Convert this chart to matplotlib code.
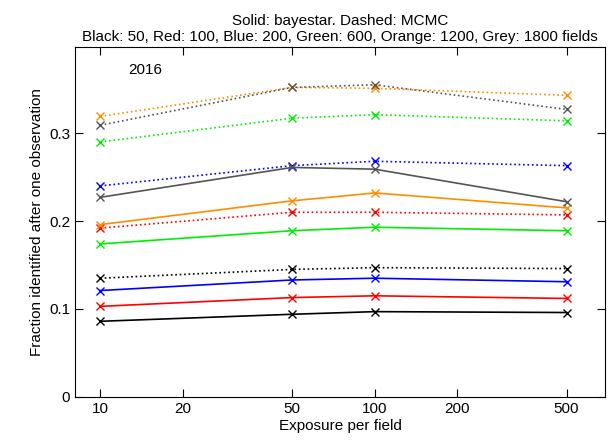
import matplotlib
matplotlib.use("Agg")
import matplotlib.pyplot as plt
from matplotlib.ticker import FixedLocator, NullLocator

plt.rcParams['font.family'] = ['Liberation Sans', 'DejaVu Sans']

exposure = [10, 50, 100, 500]
colors = ['black', 'red', 'blue', '#00ee00', '#ff8c00', '#555555']

# bayestar (solid), per field count 50,100,200,600,1200,1800
solid = [
    [0.086, 0.094, 0.097, 0.096],
    [0.103, 0.113, 0.115, 0.112],
    [0.121, 0.133, 0.135, 0.131],
    [0.174, 0.189, 0.193, 0.189],
    [0.196, 0.223, 0.232, 0.215],
    [0.227, 0.261, 0.259, 0.222],
]
# MCMC (dashed)
dashed = [
    [0.135, 0.145, 0.147, 0.146],
    [0.192, 0.210, 0.210, 0.207],
    [0.240, 0.263, 0.268, 0.263],
    [0.290, 0.317, 0.321, 0.314],
    [0.319, 0.352, 0.351, 0.343],
    [0.309, 0.352, 0.355, 0.327],
]

fig, ax = plt.subplots(figsize=(6.16, 4.43), dpi=100)
fig.subplots_adjust(left=0.122, right=0.982, top=0.894, bottom=0.104)

for c, s, d in zip(colors, solid, dashed):
    ax.plot(exposure, s, color=c, marker='x', lw=1.2, ms=6, mew=1)
    ax.plot(exposure, d, color=c, marker='x', lw=1.2, ms=6, mew=1, ls=':')

ax.set_xscale('log')
ax.set_xlim(8.1, 690)
ax.set_ylim(0, 0.398)
ax.xaxis.set_major_locator(FixedLocator([10, 20, 50, 100, 200, 500]))
ax.xaxis.set_minor_locator(NullLocator())
ax.set_xticklabels(['10', '20', '50', '100', '200', '500'])
ax.set_yticks([0, 0.1, 0.2, 0.3])
ax.set_yticklabels(['0', '0.1', '0.2', '0.3'])
ax.tick_params(direction='in', top=True, right=True, length=6, labelsize=11)
ax.set_xlabel('Exposure per field', fontsize=11, labelpad=2)
ax.set_ylabel('Fraction identified after one observation', fontsize=11)
ax.set_title('Solid: bayestar. Dashed: MCMC\n'
             'Black: 50, Red: 100, Blue: 200, Green: 600, Orange: 1200, Grey: 1800 fields',
             fontsize=11, pad=4)
ax.text(0.1, 0.935, '2016', transform=ax.transAxes, fontsize=11, va='center')

fig.savefig('out.png', dpi=100)
